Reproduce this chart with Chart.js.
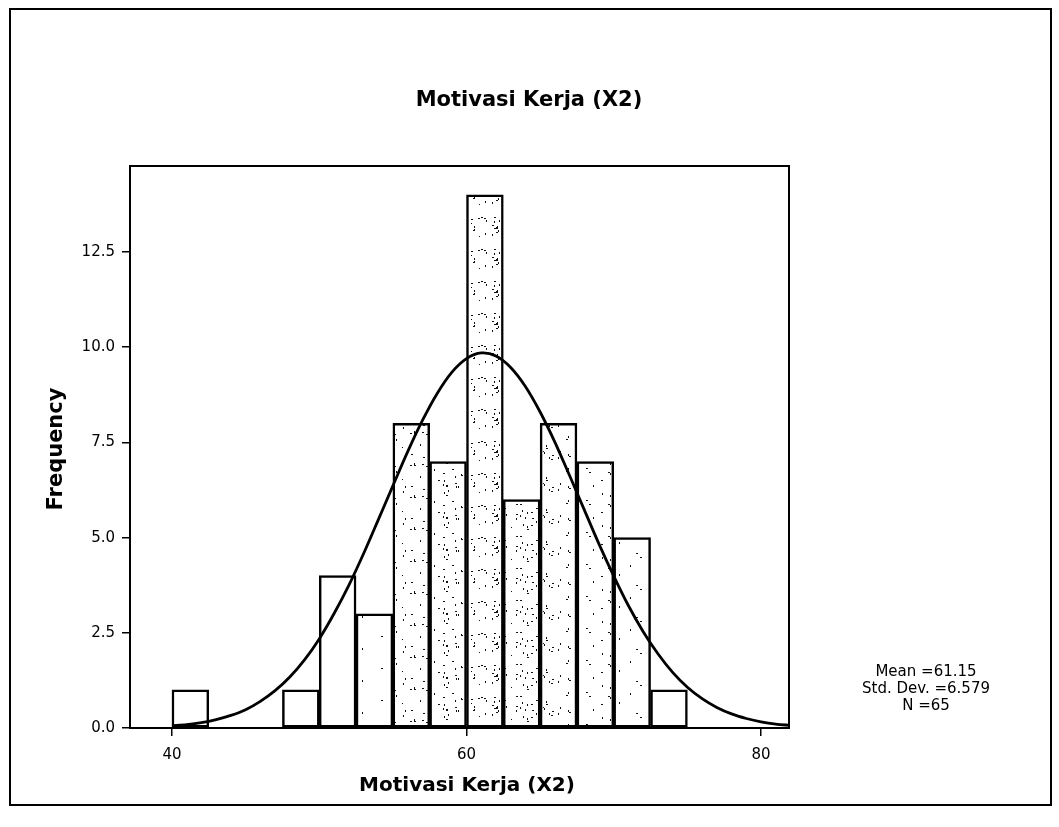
<!DOCTYPE html>
<html><head><meta charset="utf-8">
<script src="https://cdn.jsdelivr.net/npm/chart.js@4.4.1/dist/chart.umd.min.js"></script>
<style>html,body{margin:0;padding:0;background:#fff;} canvas{display:block;}</style>
</head><body>
<canvas id="c" width="1059" height="827"></canvas>
<script>
// ---- data ----
const chartTitle = 'Motivasi Kerja (X2)';
const xAxisTitle = 'Motivasi Kerja (X2)';
const yAxisTitle = 'Frequency';
const binCenters = [41.25, 43.75, 46.25, 48.75, 51.25, 53.75, 56.25, 58.75, 61.25, 63.75, 66.25, 68.75, 71.25, 73.75];
const frequencies = [1, 0, 0, 1, 4, 3, 8, 7, 14, 6, 8, 7, 5, 1];
const curveX = [40,41,42,43,44,45,46,47,48,49,50,51,52,53,54,55,56,57,58,59,60,61,62,63,64,65,66,67,68,69,70,71,72,73,74,75,76,77,78,79,80,81,82];
const curveY = [0.06,0.09,0.14,0.22,0.33,0.48,0.70,0.98,1.34,1.79,2.34,3.00,3.74,4.57,5.46,6.36,7.25,8.07,8.78,9.34,9.70,9.85,9.77,9.47,8.97,8.30,7.51,6.63,5.73,4.83,3.99,3.21,2.53,1.95,1.46,1.07,0.77,0.54,0.37,0.25,0.16,0.10,0.07];
const xTicks = [40, 60, 80];
const yTicks = [0, 2.5, 5, 7.5, 10, 12.5];
const statsLines = ['Mean =61.15', 'Std. Dev. =6.579', 'N =65'];

// ---- styling (stipple texture of the bars) ----
const stippleDensity = [0, 0, 0, 0, 0, 2, 12, 17, 22, 18, 13, 8, 4, 0];

const canvas = document.getElementById('c');
const ctx = canvas.getContext('2d');

function makePattern(n, seed) {
  if (n === 0) return '#ffffff';
  const T = 32;
  const c = document.createElement('canvas');
  c.width = T; c.height = T;
  const g = c.getContext('2d');
  g.fillStyle = '#ffffff'; g.fillRect(0, 0, T, T);
  g.fillStyle = '#111111';
  let s = seed >>> 0;
  const next = () => { s = (Math.imul(s, 1103515245) + 12345) >>> 0; return s >>> 16; };
  for (let i = 0; i < n; i++) {
    const px = next() % T, py = next() % T;
    if (i % 2) g.fillRect(px, py, 2, 1); else g.fillRect(px, py, 1, 2);
  }
  return ctx.createPattern(c, 'repeat');
}
const barFills = stippleDensity.map((n, i) => makePattern(n, 1234 + i * 7919));

const deco = {
  id: 'deco',
  afterDraw(chart) {
    const g = chart.ctx, a = chart.chartArea;
    g.save();
    g.strokeStyle = '#000'; g.lineWidth = 2;
    g.strokeRect(a.left, a.top, a.right - a.left, a.bottom - a.top);
    g.strokeRect(10, 9, 1041, 796);
    g.fillStyle = '#000'; g.textAlign = 'center'; g.textBaseline = 'middle';
    g.font = 'bold 21px "DejaVu Sans"';
    g.fillText(chartTitle, 529, 101);
    g.font = 'bold 20px "DejaVu Sans"';
    g.fillText(xAxisTitle, 467, 786);
    g.font = '15px "DejaVu Sans"';
    statsLines.forEach((t, i) => g.fillText(t, 926, 672 + i * 17));
    g.translate(57, 449); g.rotate(-Math.PI / 2);
    g.font = 'bold 21px "DejaVu Sans"';
    g.fillText(yAxisTitle, 0, 0);
    g.restore();
  }
};

const tickFont = { family: 'DejaVu Sans', size: 15 };

new Chart(ctx, {
  type: 'bar',
  data: {
    datasets: [
      {
        type: 'line',
        data: curveX.map((x, i) => ({ x: x, y: curveY[i] })),
        borderColor: '#000', borderWidth: 2.8, pointRadius: 0, tension: 0.3,
        fill: false, order: 0
      },
      {
        type: 'bar',
        data: binCenters.map((x, i) => ({ x: x, y: frequencies[i] })),
        backgroundColor: barFills,
        borderColor: '#000',
        borderWidth: c => (c.raw && c.raw.y === 0 ? 0 : 2.5),
        borderSkipped: false,
        barPercentage: 1, categoryPercentage: 1, order: 1
      }
    ]
  },
  options: {
    responsive: false, animation: false, devicePixelRatio: 1,
    layout: { padding: { top: 166, right: 270, left: 0, bottom: 0 } },
    plugins: { legend: { display: false }, tooltip: { enabled: false }, title: { display: false } },
    scales: {
      x: {
        type: 'linear', min: 37.15, max: 81.9, offset: false,
        afterBuildTicks: s => { s.ticks = xTicks.map(v => ({ value: v })); },
        afterFit: s => { s.height = 99; },
        ticks: { font: tickFont, color: '#000', padding: 10, maxRotation: 0, autoSkip: false, callback: v => String(v) },
        grid: { display: true, offset: false, drawOnChartArea: false, drawTicks: true, tickLength: 8, color: '#000', lineWidth: 1.5 },
        border: { display: true, color: '#000', width: 2 }
      },
      y: {
        min: 0, max: 14.76,
        afterBuildTicks: s => { s.ticks = yTicks.map(v => ({ value: v })); },
        afterFit: s => { s.width = 130; },
        ticks: { font: tickFont, color: '#000', padding: 7, callback: v => Number(v).toFixed(1) },
        grid: { display: true, drawOnChartArea: false, drawTicks: true, tickLength: 8, color: '#000', lineWidth: 1.5 },
        border: { display: true, color: '#000', width: 2 }
      }
    }
  },
  plugins: [deco]
});
</script>
</body></html>
